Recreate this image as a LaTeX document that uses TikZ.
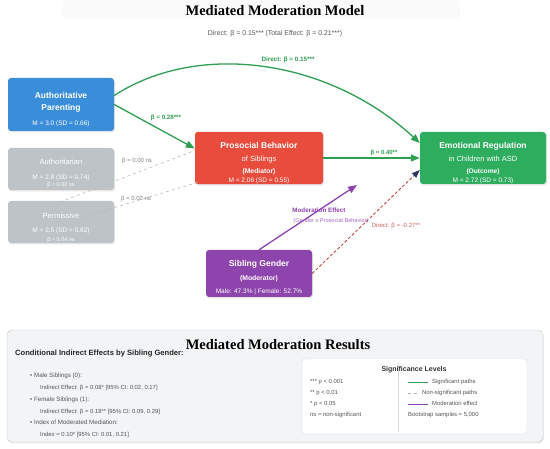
\documentclass[tikz,border=0pt]{standalone}
\usepackage{fontspec}
\setmainfont{Liberation Serif}
\setsansfont{Liberation Sans}
\usepackage{tikz}
\usetikzlibrary{positioning, arrows.meta, shadows}

\definecolor{authblue}{HTML}{3A8DD8}
\definecolor{nsgray}{HTML}{BDC3C7}
\definecolor{medred}{HTML}{E74C3C}
\definecolor{outgreen}{HTML}{2EAD5F}
\definecolor{modpurple}{HTML}{8E44AD}
\definecolor{pathgreen}{HTML}{2E9E50}
\definecolor{tipnavy}{HTML}{2C3A66}
\definecolor{dirred}{HTML}{C0392B}
\definecolor{panelgray}{HTML}{F3F4F6}
\definecolor{txtgray}{HTML}{555555}

\newcommand{\fsz}[1]{\fontsize{#1}{#1}\selectfont}
\newcommand{\lowr}[1]{\rule{0pt}{#1}}

\begin{document}
\begin{tikzpicture}[x=1pt, y=-1pt,
    varbox/.style={rounded corners=3pt, inner sep=0pt, align=center, text=white,
        drop shadow={opacity=0.2, shadow xshift=1pt, shadow yshift=-1.5pt}},
    sigpath/.style={pathgreen, line width=1.3pt, -{Triangle[length=9pt, width=7pt]}},
    nspath/.style={gray!55, dashed, line width=0.6pt},
    lbl/.style={font=\sffamily\fsz{6}, inner sep=0pt},
    listtxt/.style={font=\sffamily\fsz{5.9}, text=txtgray, inner sep=0pt, anchor=base west}]
\useasboundingbox (0,0) rectangle (550,449);

% titles
\fill[gray!4, rounded corners=4pt] (62,0) rectangle (460,19);
\node (title) at (275,11) {\fsz{14.5}\bfseries Mediated Moderation Model};
\node[lbl, text=txtgray, font=\sffamily\fsz{6.9}] (subtitle) at (275,34)
    {Direct: β = 0.15*** (Total Effect: β = 0.21***)};

% variable boxes
\node[varbox, fill=authblue, minimum width=106pt, minimum height=53pt,
      font=\sffamily\fontsize{6.5}{12}\selectfont] (auth) at (61,104.5)
    {\lowr{16pt}{\fsz{8.5}\bfseries Authoritative}\\{\fsz{8.5}\bfseries Parenting}\\[3pt]M = 3.0 (SD = 0.66)};
\node[varbox, fill=nsgray, minimum width=106pt, minimum height=42pt,
      font=\sffamily\fontsize{6.5}{7}\selectfont] (autn) at (61,169)
    {\lowr{13.5pt}{\fsz{7.5}Authoritarian}\\[8pt]M = 2.8 (SD = 0.74)\\{\fsz{5.5}β = 0.02 ns}};
\node[varbox, fill=nsgray, minimum width=106pt, minimum height=42pt,
      font=\sffamily\fontsize{6.5}{9}\selectfont] (perm) at (61,222)
    {\lowr{16.5pt}{\fsz{7.5}Permissive}\\[5pt]M = 2.5 (SD = 0.82)\\{\fsz{5.5}β = 0.04 ns}};
\node[varbox, fill=medred, minimum width=128pt, minimum height=51pt,
      font=\sffamily\fontsize{6.5}{9}\selectfont] (pro) at (259,158)
    {\lowr{17pt}{\fsz{8.5}\bfseries Prosocial Behavior}\\[4pt]{\fsz{7.5}of Siblings}\\[3pt]{\fsz{6.8}\bfseries (Mediator)}\\M = 2.06 (SD = 0.55)};
\node[varbox, fill=outgreen, minimum width=126pt, minimum height=52pt,
      font=\sffamily\fontsize{6.5}{8.5}\selectfont] (emo) at (483,158)
    {\lowr{16pt}{\fsz{8.5}\bfseries Emotional Regulation}\\[4pt]{\fsz{7.5}in Children with ASD}\\[4pt]{\fsz{6.6}\bfseries (Outcome)}\\M = 2.72 (SD = 0.73)};
\node[varbox, fill=modpurple, minimum width=106pt, minimum height=47pt,
      font=\sffamily\fontsize{6.5}{13}\selectfont] (gen) at (259,273.5)
    {\lowr{14pt}{\fsz{8.5}\bfseries Sibling Gender}\\[1pt]{\fsz{6.8}\bfseries (Moderator)}\\Male: 47.3\% | Female: 52.7\%};

% non-significant paths
\coordinate (nsa) at (60,202);
\coordinate (nsb) at (80,218);
\draw[nspath] (nsa) -- ([yshift=7.5pt]pro.west);
\draw[nspath] (nsb) -- ([shift={(3pt,2pt)}]pro.south west);
\node[lbl, text=gray] (lnsa) at (137,161) {β = 0.00 ns};
\node[lbl, text=gray] (lnsb) at (136,199) {β = 0.02 ns};

% significant paths
\draw[sigpath] (auth.east) -- ([yshift=9.5pt]pro.west);
\draw[sigpath] (pro.east) -- (emo.west);
\draw[sigpath] ([yshift=9pt]auth.east) .. controls (200,40) and (330,60) .. ([yshift=15pt]emo.west);
\node[lbl, text=pathgreen, font=\sffamily\bfseries\fsz{6.3}] (ldir) at (288,60) {Direct: β = 0.15***};
\node[lbl, text=pathgreen, font=\sffamily\bfseries\fsz{6.2}] (lab) at (166,118) {β = 0.28***};
\node[lbl, text=pathgreen, font=\sffamily\bfseries\fsz{6}] (lbc) at (384,153) {β = 0.40**};

% moderation
\coordinate (modtip) at (357,185);
\draw[modpurple, line width=1.3pt, -{Triangle[length=9pt, width=7pt]}] (gen.north) -- (modtip);
\node[lbl, text=modpurple, font=\sffamily\bfseries\fsz{6.3}] (lmod) at (319,210) {Moderation Effect};
\node[lbl, text=modpurple!80, font=\sffamily\fsz{5.6}] (lmodb) at (331,221) {(Gender x Prosocial Behavior)};
\draw[dirred, densely dashed, line width=0.8pt, -{Triangle[length=8pt, width=6pt, color=tipnavy]}]
    (gen.east) -- ([yshift=-12pt]emo.west);
\node[lbl, text=dirred!80] (lgd) at (396,226) {Direct: β = -0.27**};

% results panel
\draw[gray!45, fill=panelgray, rounded corners=5pt,
      drop shadow={opacity=0.15, shadow xshift=1pt, shadow yshift=-1.5pt}] (7,330) rectangle (543,442);
\node (rtitle) at (278,345) {\fsz{14.5}\bfseries Mediated Moderation Results};
\node[listtxt, text=black!85, font=\sffamily\bfseries\fsz{7.6}] (cond) at (15,356) {Conditional Indirect Effects by Sibling Gender:};
\node[listtxt, font=\sffamily\fsz{6.2}] (male) at (30,378) {• Male Siblings (0):};
\node[listtxt] (malei) at (40,390) {Indirect Effect: β = 0.08* [95\% CI: 0.02, 0.17]};
\node[listtxt, font=\sffamily\fsz{6.2}] (fem) at (30,402) {• Female Siblings (1):};
\node[listtxt] (femi) at (40,414) {Indirect Effect: β = 0.18** [95\% CI: 0.09, 0.29]};
\node[listtxt, font=\sffamily\fsz{6.2}] (imm) at (30,425) {• Index of Moderated Mediation:};
\node[listtxt] (immi) at (40,437) {Index = 0.10* [95\% CI: 0.01, 0.21]};

% significance legend
\draw[gray!30, fill=white, rounded corners=3pt] (302,359) rectangle (527,434);
\draw[gray!30] (398,362) -- (398,432);
\node[lbl, text=black!80, font=\sffamily\bfseries\fsz{7}] (sigt) at (414,370) {Significance Levels};
\node[listtxt] (p3) at (310,384) {*** p < 0.001};
\node[listtxt] (p2) at (310,395) {** p < 0.01};
\node[listtxt] (p1) at (310,406) {* p < 0.05};
\node[listtxt] (pns) at (310,417) {ns = non-significant};
\draw[pathgreen, line width=0.6pt] (408,382.5) -- (428,382.5);
\node[listtxt] (lgsig) at (432,384) {Significant paths};
\draw[gray!60, dashed, line width=0.5pt] (408,393.5) -- (420,393.5);
\node[listtxt] (lgns) at (422,395) {Non-significant paths};
\draw[modpurple, line width=0.6pt] (408,404.5) -- (428,404.5);
\node[listtxt] (lgmod) at (432,406) {Moderation effect};
\node[listtxt] (boot) at (408,417) {Bootstrap samples = 5,000};
\end{tikzpicture}
\end{document}
